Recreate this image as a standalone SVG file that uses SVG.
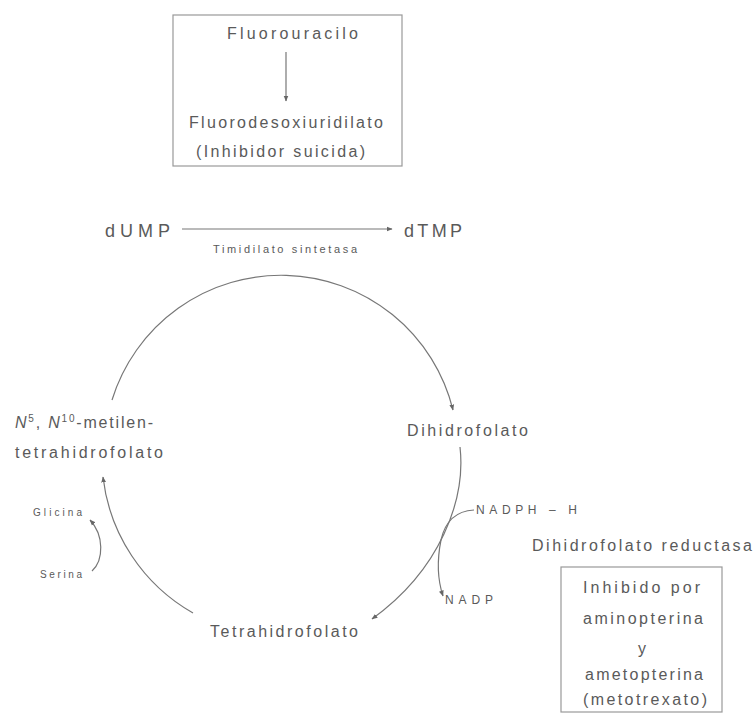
<svg xmlns="http://www.w3.org/2000/svg" width="755" height="713" viewBox="0 0 755 713">
<defs>
<marker id="ah" viewBox="0 0 10 10" refX="9" refY="5" markerWidth="6" markerHeight="6" markerUnits="userSpaceOnUse" orient="auto">
<path d="M0,1 L10,5 L0,9 z" fill="#666"/>
</marker>
</defs>
<style>
text{font-family:"Liberation Sans",Arial,sans-serif;fill:#5a5a5a}
.lbl{font-size:16px}
.big{font-size:18px}
.sm{font-size:10px}
.tm{font-size:11px}
.xs{font-size:12px}
.ln{fill:none;stroke:#777;stroke-width:1.2}
.box{fill:none;stroke:#999;stroke-width:1.2}
</style>
<rect width="755" height="713" fill="#fff"/>
<g id="fluorouracilo-box">
<rect class="box" x="173" y="15" width="229" height="151"/>
<text class="lbl" x="227" y="39" textLength="131" lengthAdjust="spacing">Fluorouracilo</text>
<text class="lbl" x="189" y="128" textLength="194" lengthAdjust="spacing">Fluorodesoxiuridilato</text>
<text class="lbl" x="196" y="157" textLength="169" lengthAdjust="spacing">(Inhibidor suicida)</text>
</g>
<g id="dUMP"><text class="big" x="105" y="237" textLength="65" lengthAdjust="spacing">dUMP</text></g>
<g id="dTMP"><text class="big" x="404" y="237" textLength="58" lengthAdjust="spacing">dTMP</text></g>
<g id="timidilato-sintetasa"><text class="tm" x="213" y="253" textLength="144" lengthAdjust="spacing">Timidilato sintetasa</text></g>
<g id="metilen-thf">
<text class="lbl" x="15" y="428" letter-spacing="1.8"><tspan font-style="italic">N</tspan><tspan font-size="10" dy="-6">5</tspan><tspan dy="6">, </tspan><tspan font-style="italic">N</tspan><tspan font-size="10" dy="-6">10</tspan><tspan dy="6">-metilen-</tspan></text>
<text class="lbl" x="15" y="458" textLength="148" lengthAdjust="spacing">tetrahidrofolato</text>
</g>
<g id="dihidrofolato"><text class="lbl" x="407" y="436" textLength="121" lengthAdjust="spacing">Dihidrofolato</text></g>
<g id="tetrahidrofolato"><text class="lbl" x="210" y="637" textLength="148" lengthAdjust="spacing">Tetrahidrofolato</text></g>
<g id="glicina"><text class="sm" x="33" y="516" textLength="49" lengthAdjust="spacing">Glicina</text></g>
<g id="serina"><text class="sm" x="40" y="578" textLength="42" lengthAdjust="spacing">Serina</text></g>
<g id="nadph"><text class="xs" x="476" y="514" textLength="101" lengthAdjust="spacing">NADPH – H</text></g>
<g id="nadp"><text class="xs" x="445" y="604" textLength="48" lengthAdjust="spacing">NADP</text></g>
<g id="dhfr"><text class="lbl" x="532" y="551" textLength="220" lengthAdjust="spacing">Dihidrofolato reductasa</text></g>
<g id="inhibido-box">
<rect class="box" x="561" y="567" width="161" height="145"/>
<text class="lbl" x="583" y="593" textLength="117" lengthAdjust="spacing">Inhibido por</text>
<text class="lbl" x="583" y="624" textLength="120" lengthAdjust="spacing">aminopterina</text>
<text class="lbl" x="642" y="654" text-anchor="middle">y</text>
<text class="lbl" x="585" y="680" textLength="118" lengthAdjust="spacing">ametopterina</text>
<text class="lbl" x="583" y="705" textLength="124" lengthAdjust="spacing">(metotrexato)</text>
</g>
<g id="connectors">
<path class="ln" d="M286 52 L286 101" marker-end="url(#ah)"/>
<path class="ln" d="M182 229 L392 229" marker-end="url(#ah)"/>
<path class="ln" d="M112 400 A177 177 0 0 1 453 410" marker-end="url(#ah)"/>
<path class="ln" d="M460 447 C466 500 440 570 372 619" marker-end="url(#ah)"/>
<path class="ln" d="M193 613 A180 180 0 0 1 103 477" marker-end="url(#ah)"/>
<path class="ln" d="M474 510 C455 511 445 522 441 540 C437 560 437 578 443 596" marker-end="url(#ah)"/>
<path class="ln" d="M92 571 C104 560 104 535 90 520" marker-end="url(#ah)"/>
</g>
</svg>
